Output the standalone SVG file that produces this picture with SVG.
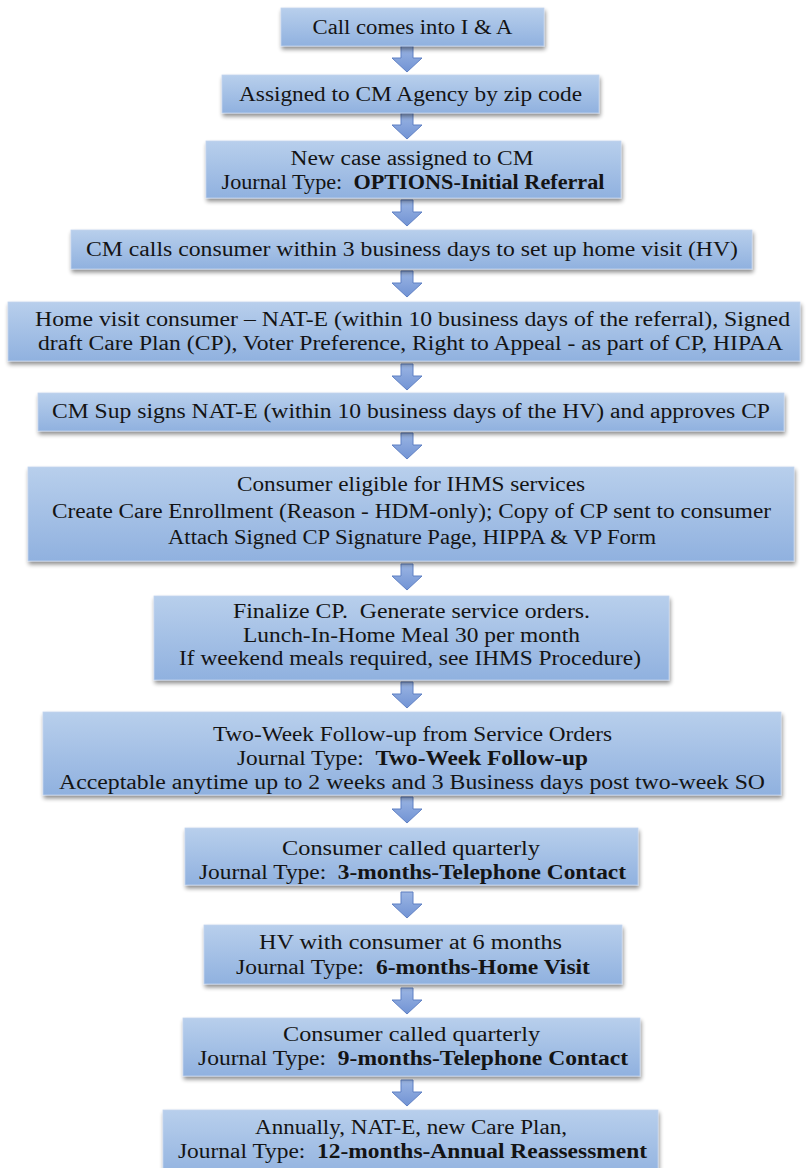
<svg xmlns="http://www.w3.org/2000/svg" width="806" height="1168" viewBox="0 0 806 1168">
<defs>
<linearGradient id="boxg" x1="0" y1="0" x2="0" y2="1">
<stop offset="0" stop-color="#b8cfec"/>
<stop offset="1" stop-color="#90b1df"/>
</linearGradient>
<linearGradient id="arrg" x1="0" y1="0" x2="0" y2="1">
<stop offset="0" stop-color="#9bb5e3"/>
<stop offset="1" stop-color="#7193d4"/>
</linearGradient>
<filter id="sh" x="-5%" y="-20%" width="110%" height="150%">
<feGaussianBlur in="SourceAlpha" stdDeviation="2.2"/>
<feOffset dx="1" dy="3" result="b"/>
<feComponentTransfer><feFuncA type="linear" slope="0.45"/></feComponentTransfer>
<feMerge><feMergeNode/><feMergeNode in="SourceGraphic"/></feMerge>
</filter>
<path id="arr" d="M-6,0 H6 V12 H15 L0,26 L-15,12 H-6 Z"/>
</defs>
<style>
.box{fill:url(#boxg);stroke:#c3d5ee;stroke-width:0.8;filter:url(#sh);}
.t{font-family:"Liberation Serif","Times New Roman",serif;font-size:20px;fill:#141414;text-anchor:middle;}
.b{font-weight:bold;}
.a{fill:url(#arrg);stroke:#5f80c4;stroke-width:1;}
</style>
<rect width="806" height="1168" fill="#ffffff"/>

<g id="connectors">
<use href="#arr" class="a" x="407" y="46"/>
<use href="#arr" class="a" x="407" y="113"/>
<use href="#arr" class="a" x="407" y="200"/>
<use href="#arr" class="a" x="407" y="271"/>
<use href="#arr" class="a" x="407" y="364"/>
<use href="#arr" class="a" x="407" y="433"/>
<use href="#arr" class="a" x="407" y="564"/>
<use href="#arr" class="a" x="407" y="682"/>
<use href="#arr" class="a" x="407" y="797"/>
<use href="#arr" class="a" x="407" y="892"/>
<use href="#arr" class="a" x="407" y="988"/>
<use href="#arr" class="a" x="407" y="1080"/>
</g>

<g id="n1">
<rect class="box" x="281" y="8" width="263" height="38"/>
<text class="t" x="412.5" y="34" textLength="200" lengthAdjust="spacingAndGlyphs">Call comes into I &amp; A</text>
</g>
<g id="n2">
<rect class="box" x="222" y="75" width="377" height="38"/>
<text class="t" x="410.5" y="101" textLength="343" lengthAdjust="spacingAndGlyphs">Assigned to CM Agency by zip code</text>
</g>
<g id="n3">
<rect class="box" x="206" y="141" width="415" height="57"/>
<text class="t" x="412" y="165" textLength="243" lengthAdjust="spacingAndGlyphs">New case assigned to CM</text>
<text class="t" x="413" y="189" textLength="383" lengthAdjust="spacingAndGlyphs" xml:space="preserve">Journal Type:  <tspan class="b">OPTIONS-Initial Referral</tspan></text>
</g>
<g id="n4">
<rect class="box" x="71" y="230" width="681" height="39"/>
<text class="t" x="412" y="256" textLength="652" lengthAdjust="spacingAndGlyphs">CM calls consumer within 3 business days to set up home visit (HV)</text>
</g>
<g id="n5">
<rect class="box" x="8" y="302" width="792" height="59"/>
<text class="t" x="412.5" y="326" textLength="755" lengthAdjust="spacingAndGlyphs">Home visit consumer – NAT-E (within 10 business days of the referral), Signed</text>
<text class="t" x="410.5" y="350" textLength="745" lengthAdjust="spacingAndGlyphs">draft Care Plan (CP), Voter Preference, Right to Appeal - as part of CP, HIPAA</text>
</g>
<g id="n6">
<rect class="box" x="38" y="393" width="746" height="38"/>
<text class="t" x="411" y="418" textLength="718" lengthAdjust="spacingAndGlyphs">CM Sup signs NAT-E (within 10 business days of the HV) and approves CP</text>
</g>
<g id="n7">
<rect class="box" x="28" y="467" width="766" height="94"/>
<text class="t" x="411" y="491" textLength="348" lengthAdjust="spacingAndGlyphs">Consumer eligible for IHMS services</text>
<text class="t" x="411.5" y="518" textLength="719" lengthAdjust="spacingAndGlyphs">Create Care Enrollment (Reason - HDM-only); Copy of CP sent to consumer</text>
<text class="t" x="412" y="544" textLength="488" lengthAdjust="spacingAndGlyphs">Attach Signed CP Signature Page, HIPPA &amp; VP Form</text>
</g>
<g id="n8">
<rect class="box" x="154" y="596" width="515" height="84"/>
<text class="t" x="411.5" y="618" textLength="357" lengthAdjust="spacingAndGlyphs" xml:space="preserve">Finalize CP.  Generate service orders.</text>
<text class="t" x="411.5" y="642" textLength="337" lengthAdjust="spacingAndGlyphs">Lunch-In-Home Meal 30 per month</text>
<text class="t" x="410" y="665" textLength="462" lengthAdjust="spacingAndGlyphs">If weekend meals required, see IHMS Procedure)</text>
</g>
<g id="n9">
<rect class="box" x="43" y="712" width="738" height="83"/>
<text class="t" x="412.5" y="741" textLength="399" lengthAdjust="spacingAndGlyphs">Two-Week Follow-up from Service Orders</text>
<text class="t" x="412.5" y="765" textLength="351" lengthAdjust="spacingAndGlyphs" xml:space="preserve">Journal Type:  <tspan class="b">Two-Week Follow-up</tspan></text>
<text class="t" x="412" y="789" textLength="706" lengthAdjust="spacingAndGlyphs">Acceptable anytime up to 2 weeks and 3 Business days post two-week SO</text>
</g>
<g id="n10">
<rect class="box" x="185" y="828" width="453" height="57"/>
<text class="t" x="411" y="855" textLength="258" lengthAdjust="spacingAndGlyphs">Consumer called quarterly</text>
<text class="t" x="412.5" y="879" textLength="427" lengthAdjust="spacingAndGlyphs" xml:space="preserve">Journal Type:  <tspan class="b">3-months-Telephone Contact</tspan></text>
</g>
<g id="n11">
<rect class="box" x="204" y="925" width="418" height="59"/>
<text class="t" x="410.5" y="949" textLength="303" lengthAdjust="spacingAndGlyphs">HV with consumer at 6 months</text>
<text class="t" x="413" y="974" textLength="354" lengthAdjust="spacingAndGlyphs" xml:space="preserve">Journal Type:  <tspan class="b">6-months-Home Visit</tspan></text>
</g>
<g id="n12">
<rect class="box" x="183" y="1018" width="457" height="58"/>
<text class="t" x="411.5" y="1041" textLength="257" lengthAdjust="spacingAndGlyphs">Consumer called quarterly</text>
<text class="t" x="413" y="1065" textLength="430" lengthAdjust="spacingAndGlyphs" xml:space="preserve">Journal Type:  <tspan class="b">9-months-Telephone Contact</tspan></text>
</g>
<g id="n13">
<rect class="box" x="163" y="1110" width="495" height="70"/>
<text class="t" x="411" y="1134" textLength="312" lengthAdjust="spacingAndGlyphs">Annually, NAT-E, new Care Plan,</text>
<text class="t" x="412.5" y="1158" textLength="469" lengthAdjust="spacingAndGlyphs" xml:space="preserve">Journal Type:  <tspan class="b">12-months-Annual Reassessment</tspan></text>
</g>
</svg>
